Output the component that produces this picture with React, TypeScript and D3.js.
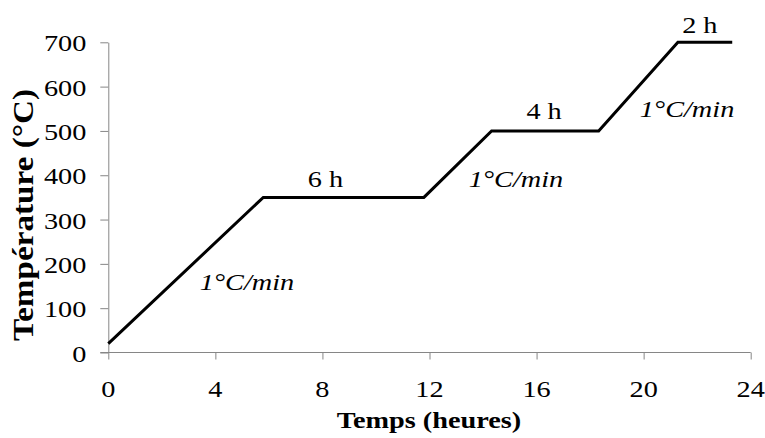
import React, { useEffect, useRef } from 'react';
import * as d3 from 'd3';

// time (h) and temperature (°C) of the firing profile
const times = [0, 5.79, 11.79, 14.32, 18.32, 21.28, 23.31];
const temps = [20, 350, 350, 500, 500, 700, 700];

const xTicks = [0, 4, 8, 12, 16, 20, 24];
const yTicks = [0, 100, 200, 300, 400, 500, 600, 700];

// annotations: [x (h), y (°C), text, italic]
const notes: [number, number, string, boolean][] = [
  [8.11, 374, '6 h', false],
  [16.28, 527, '4 h', false],
  [22.1, 720, '2 h', false],
  [5.18, 140, '1°C/min', true],
  [15.23, 374, '1°C/min', true],
  [21.62, 532, '1°C/min', true],
];

const FONT = "'Liberation Serif', 'Times New Roman', Times, serif";
const SX = 1.23; // the original picture is stretched sideways

const App: React.FC = () => {
  const svgRef = useRef<SVGSVGElement>(null);

  useEffect(() => {
    if (!svgRef.current) return;
    const svg = d3.select(svgRef.current);
    svg.selectAll('*').remove();

    const x = d3.scaleLinear().domain([0, 24]).range([108.3, 750.7]);
    const y = d3.scaleLinear().domain([0, 700]).range([352.5, 42.3]);
    const axisColor = '#868686';

    // x axis
    const xAxis = svg.append('g')
      .attr('transform', `translate(0,${y(0)})`)
      .call(d3.axisBottom(x).tickValues(xTicks).tickSize(7).tickSizeOuter(0));
    xAxis.selectAll('text').remove();
    xAxis.select('.domain').attr('stroke', axisColor).attr('d', `M${x(0) - 8},0H${x(24)}`);
    xAxis.selectAll('line').attr('stroke', axisColor);

    // y axis
    const yAxis = svg.append('g')
      .attr('transform', `translate(${x(0)},0)`)
      .call(d3.axisLeft(y).tickValues(yTicks).tickSize(8).tickSizeOuter(0));
    yAxis.selectAll('text').remove();
    yAxis.select('.domain').attr('stroke', axisColor);
    yAxis.selectAll('line').attr('stroke', axisColor);

    const label = (px: number, py: number, txt: string, anchor: string) =>
      svg.append('text')
        .attr('transform', `translate(${px},${py}) scale(${SX},1)`)
        .attr('text-anchor', anchor)
        .style('font-family', FONT)
        .style('font-size', '23px')
        .attr('fill', '#000')
        .text(txt);

    xTicks.forEach(t => label(x(t), y(0) + 44.5, String(t), 'middle'));
    yTicks.forEach(t => label(x(0) - 22, y(t) + 9, String(t), 'end'));

    // profile line
    const line = d3.line<number>()
      .x((_, i) => x(times[i]))
      .y(d => y(d));
    svg.append('path')
      .datum(temps)
      .attr('fill', 'none')
      .attr('stroke', '#000')
      .attr('stroke-width', 3)
      .attr('stroke-linejoin', 'miter')
      .attr('d', line);

    notes.forEach(n => {
      label(x(n[0]), y(n[1]), n[2], 'middle')
        .style('font-style', n[3] ? 'italic' : 'normal');
    });

    // axis titles
    svg.append('text')
      .attr('transform', `translate(429,428) scale(${SX},1)`)
      .attr('text-anchor', 'middle')
      .style('font-family', FONT)
      .style('font-size', '23px')
      .style('font-weight', 'bold')
      .text('Temps (heures)');

    svg.append('text')
      .attr('transform', 'translate(33,215) rotate(-90)')
      .attr('text-anchor', 'middle')
      .attr('textLength', 252)
      .attr('lengthAdjust', 'spacingAndGlyphs')
      .style('font-family', FONT)
      .style('font-size', '29px')
      .style('font-weight', 'bold')
      .text('Température (°C)');
  }, []);

  return (
    <div style={{ position: 'absolute', left: 0, top: 0 }}>
      <svg ref={svgRef} width={765} height={438} style={{ display: 'block', background: '#fff' }} />
    </div>
  );
};

export default App;
